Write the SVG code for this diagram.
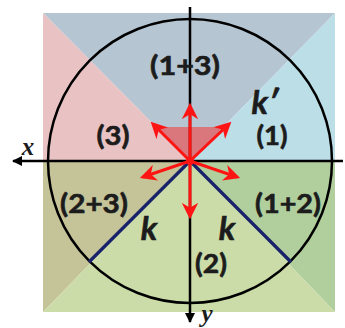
<svg xmlns="http://www.w3.org/2000/svg" width="345" height="328" viewBox="0 0 345 328">
<style>
.lbl{font-family:Lato,"Open Sans","Liberation Sans",sans-serif;font-weight:bold;font-size:26px;fill:#1c1c1c;text-anchor:middle;stroke:#1c1c1c;stroke-width:0.6}
.it{font-family:Lato,"Open Sans","Liberation Sans",sans-serif;font-weight:bold;font-style:italic;font-size:33px;fill:#1c1c1c;text-anchor:middle;stroke:#1c1c1c;stroke-width:0.6}
.ax{font-family:"Liberation Serif",serif;font-weight:bold;font-style:italic;font-size:25px;fill:#1c1c1c;text-anchor:middle}
.axis{stroke:#000;stroke-width:2.5;fill:none}
.vec{stroke:#ff1414;stroke-width:3;fill:none;marker-end:url(#ra)}
.kl{stroke:#18226a;stroke-width:3.2;fill:none}
</style>
<defs>
<marker id="ra" viewBox="0 0 10 10" refX="8" refY="5" markerWidth="5.5" markerHeight="5.5" orient="auto" markerUnits="strokeWidth">
<path d="M0,0 L10,5 L0,10 L3,5 Z" fill="#ff1414"/>
</marker>
<marker id="ba" viewBox="0 0 10 10" refX="9" refY="5" markerWidth="4" markerHeight="4" orient="auto" markerUnits="strokeWidth">
<path d="M0,0 L10,5 L0,10 Z" fill="#000"/>
</marker>
</defs>
<rect width="345" height="328" fill="#ffffff"/>
<g id="regions">
<polygon points="43,13 335,13 190,161" fill="#b5c6d2"/>
<polygon points="43,13 190,161 43,161" fill="#e9c3c3"/>
<polygon points="335,13 335,161 190,161" fill="#bcdee7"/>
<polygon points="154,127 228,127 190,161" fill="#d9777d"/>
<polygon points="43,161 190,161 43,312" fill="#c5c398"/>
<polygon points="335,161 335,312 190,161" fill="#b1cf9d"/>
<polygon points="190,161 43,312 335,312" fill="#cbdca9"/>
</g>
<g id="circle">
<circle cx="190" cy="161" r="142" fill="none" stroke="#000" stroke-width="2.5"/>
</g>
<g id="connectors">
<line class="kl" x1="190" y1="161" x2="89" y2="262"/>
<line class="kl" x1="190" y1="161" x2="291" y2="262"/>
<line class="axis" x1="190" y1="7" x2="190" y2="322" marker-end="url(#ba)"/>
<line class="axis" x1="343" y1="161" x2="13" y2="161" marker-end="url(#ba)"/>
<line class="vec" x1="190" y1="161" x2="190" y2="106"/>
<line class="vec" x1="190" y1="161" x2="153" y2="124"/>
<line class="vec" x1="190" y1="161" x2="229" y2="124"/>
<line class="vec" x1="190" y1="161" x2="143" y2="177"/>
<line class="vec" x1="190" y1="161" x2="237" y2="177"/>
<line class="vec" x1="190" y1="161" x2="190" y2="216"/>
<circle cx="190" cy="161" r="4" fill="#ff1414"/>
</g>
<g id="labels">
<text class="lbl" x="185" y="75" textLength="70" lengthAdjust="spacingAndGlyphs">(1+3)</text>
<text class="lbl" x="113" y="145" textLength="33" lengthAdjust="spacingAndGlyphs">(3)</text>
<text class="lbl" x="272" y="145" textLength="31" lengthAdjust="spacingAndGlyphs">(1)</text>
<text class="lbl" x="94" y="213" textLength="68" lengthAdjust="spacingAndGlyphs">(2+3)</text>
<text class="lbl" x="288" y="213" textLength="66" lengthAdjust="spacingAndGlyphs">(1+2)</text>
<text class="lbl" x="211" y="273" textLength="32" lengthAdjust="spacingAndGlyphs">(2)</text>
<text class="it" x="265" y="114">k′</text>
<text class="it" x="149" y="240">k</text>
<text class="it" x="227" y="240">k</text>
<text class="ax" x="28" y="155">x</text>
<text class="ax" x="207" y="322">y</text>
</g>
</svg>
